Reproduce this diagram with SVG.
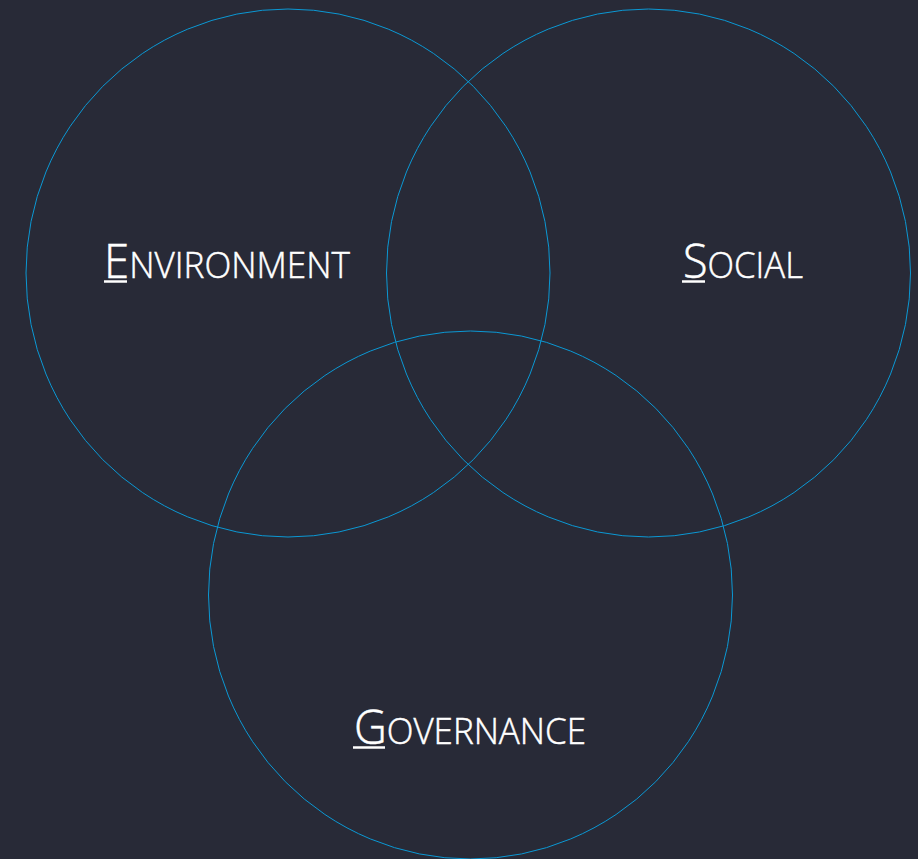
<svg xmlns="http://www.w3.org/2000/svg" width="918" height="859" viewBox="0 0 918 859">
  <style>
    .ring { fill: none; stroke: #0b98d4; stroke-width: 1; }
    .label { font-family: "Open Sans", "Liberation Sans", sans-serif; font-weight: 300; fill: #ffffff; stroke: #ffffff; stroke-width: 0.5; }
    .cap { font-size: 48px; }
    .sc { font-size: 37px; }
    .uline { stroke: #ffffff; stroke-width: 2.5; }
  </style>
  <rect width="918" height="859" fill="#282a37"/>
  <g id="environment">
    <ellipse class="ring" cx="288" cy="273" rx="262" ry="264"/>
    <text class="label" x="104" y="278" textLength="246" lengthAdjust="spacingAndGlyphs"><tspan class="cap">E</tspan><tspan class="sc">NVIRONMENT</tspan></text>
    <line class="uline" x1="104" y1="281.5" x2="127" y2="281.5"/>
  </g>
  <g id="social">
    <ellipse class="ring" cx="648.5" cy="273" rx="262" ry="264"/>
    <text class="label" x="683" y="278" textLength="120" lengthAdjust="spacingAndGlyphs"><tspan class="cap">S</tspan><tspan class="sc">OCIAL</tspan></text>
    <line class="uline" x1="682" y1="281.5" x2="705" y2="281.5"/>
  </g>
  <g id="governance">
    <ellipse class="ring" cx="470.5" cy="595" rx="262" ry="264"/>
    <text class="label" x="354" y="744" textLength="232" lengthAdjust="spacingAndGlyphs"><tspan class="cap">G</tspan><tspan class="sc">OVERNANCE</tspan></text>
    <line class="uline" x1="353" y1="747.5" x2="385" y2="747.5"/>
  </g>
  <g id="connectors"/>
</svg>
